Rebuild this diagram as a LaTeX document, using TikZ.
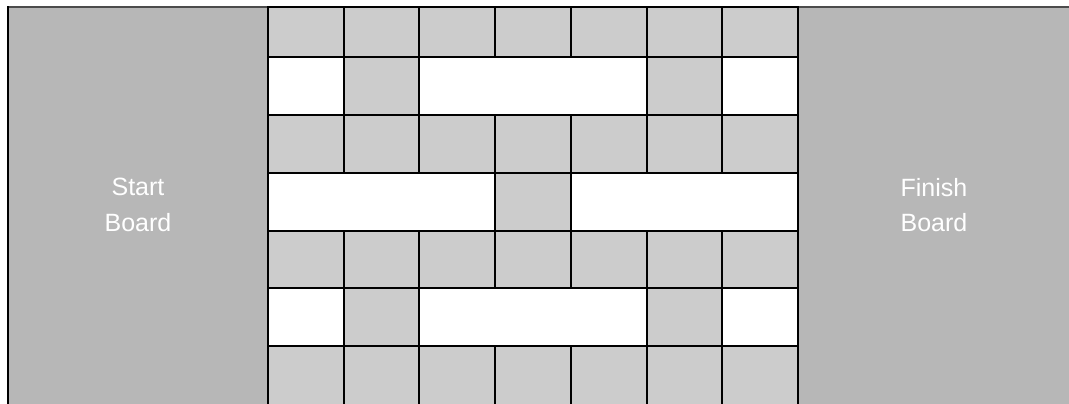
\documentclass[tikz,border=0pt]{standalone}
\usepackage{fontspec}
\setmainfont{Liberation Sans}
\definecolor{board}{HTML}{B7B7B7}
\definecolor{cell}{HTML}{CCCCCC}
\begin{document}
\begin{tikzpicture}[x=1pt,y=-1pt,
  cellbox/.style={fill=cell,draw=black,line width=2pt},
  openbox/.style={fill=white,draw=black,line width=2pt},
  boardlabel/.style={text=white,font=\fontsize{25}{35.7}\selectfont,align=center}]
\useasboundingbox (0,0) rectangle (1069,404);
\def\cw{75.71}
\def\gx{268}
% boards
\fill[board] (8,7) rectangle (268,410);
\fill[board] (798,7) rectangle (1075,410);
\draw[line width=1.5pt,black!70] (7,7) -- (268,7);
\draw[line width=1.5pt,black!70] (798,7) -- (1075,7);
\draw[line width=2pt] (8,6.5) -- (8,410);
% full grey rows
\foreach \t/\b in {7.5/57.5, 115.2/172.9, 230.6/288.3, 346.0/410}{
  \foreach \i in {0,...,6}{
    \draw[cellbox] ({\gx+\i*\cw},\t) rectangle ({\gx+(\i+1)*\cw},\b);
  }
}
% rows 2 and 6
\foreach \t/\b in {57.5/115.2, 288.3/346.0}{
  \draw[openbox] ({\gx},\t) rectangle ({\gx+1*\cw},\b);
  \draw[cellbox] ({\gx+1*\cw},\t) rectangle ({\gx+2*\cw},\b);
  \draw[openbox] ({\gx+2*\cw},\t) rectangle ({\gx+5*\cw},\b);
  \draw[cellbox] ({\gx+5*\cw},\t) rectangle ({\gx+6*\cw},\b);
  \draw[openbox] ({\gx+6*\cw},\t) rectangle ({\gx+7*\cw},\b);
}
% row 4
\draw[openbox] ({\gx},172.9) rectangle ({\gx+3*\cw},230.6);
\draw[cellbox] ({\gx+3*\cw},172.9) rectangle ({\gx+4*\cw},230.6);
\draw[openbox] ({\gx+4*\cw},172.9) rectangle ({\gx+7*\cw},230.6);
% labels
\node[boardlabel] (start) at (138,205) {Start\\Board};
\node[boardlabel] (finish) at (934,205) {Finish\\Board};
\end{tikzpicture}
\end{document}
